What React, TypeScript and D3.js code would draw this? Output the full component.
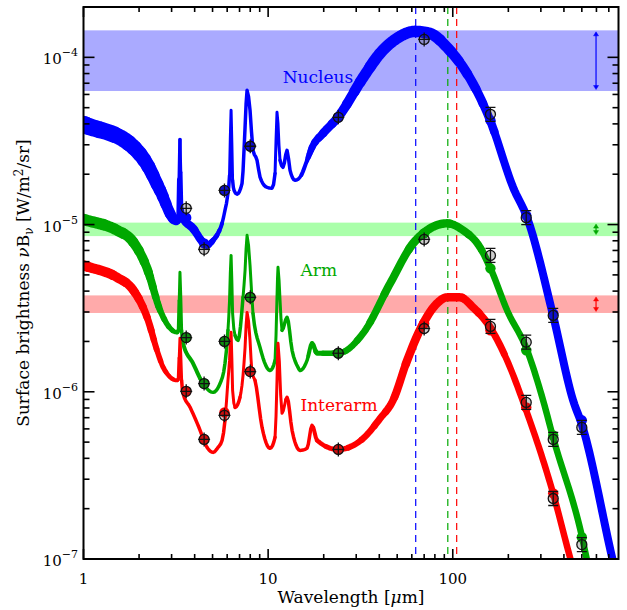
import React from 'react';
import * as d3 from 'd3';

type Pt = [number, number, number]; // wavelength (µm), νBν (W/m²/sr), model spread (dex)

const nucleusSED: Pt[] = [
  [1.0, 3.97e-5, 0.045], [1.79, 3.02e-5, 0.04], [2.21, 2.29e-5, 0.035], [2.6, 1.6e-5, 0.03],
  [3.17, 1.06e-5, 0.022], [3.27, 1.07e-5, 0.008], [3.33, 3.23e-5, 0.002], [3.4, 1.22e-5, 0.004],
  [3.46, 1.1e-5, 0.018], [3.92, 9.49e-6, 0.018], [4.44, 7.82e-6, 0.016], [4.67, 7.51e-6, 0.013],
  [5.03, 8.04e-6, 0.009], [5.35, 8.86e-6, 0.007], [5.63, 1.017e-5, 0.004], [5.84, 1.22e-5, 0.003],
  [6.06, 1.54e-5, 0.003], [6.18, 1.97e-5, 0.003], [6.3, 4.82e-5, 0.002], [6.42, 1.84e-5, 0.003],
  [6.54, 1.6e-5, 0.003], [6.78, 1.52e-5, 0.003], [7.22, 1.76e-5, 0.003], [7.5, 3.81e-5, 0.003],
  [7.69, 6.35e-5, 0.003], [7.98, 4.82e-5, 0.003], [8.28, 2.78e-5, 0.003], [8.71, 2.42e-5, 0.003],
  [9.04, 1.92e-5, 0.004], [9.86, 1.67e-5, 0.004], [10.5, 1.65e-5, 0.004], [10.9, 2.02e-5, 0.003],
  [11.17, 4.69e-5, 0.002], [11.6, 2.42e-5, 0.003], [12.04, 2.2e-5, 0.003], [12.66, 2.78e-5, 0.003],
  [13.14, 2.11e-5, 0.003], [13.99, 1.84e-5, 0.004], [14.89, 1.92e-5, 0.004], [16.25, 2.42e-5, 0.006],
  [17.29, 2.89e-5, 0.014], [19.83, 3.51e-5, 0.018], [23.9, 4.38e-5, 0.02], [32.7, 7.59e-5, 0.026],
  [40.4, 1.057e-4, 0.028], [49.9, 1.3e-4, 0.028], [62.5, 1.43e-4, 0.028], [75.3, 1.39e-4, 0.028],
  [93.1, 1.148e-4, 0.026], [113.7, 8.71e-5, 0.023], [140.6, 5.76e-5, 0.02], [159.3, 4.2e-5, 0.018],
  [212.2, 1.67e-5, 0.017], [252.7, 1.1e-5, 0.017], [349.4, 2.86e-6, 0.017], [448.4, 8.89e-7, 0.017],
  [501.7, 6.3e-7, 0.017], [729.5, 1.02e-7, 0.017], [790, 7e-8, 0.017],
];

const armSED: Pt[] = [
  [1.0, 1.074e-5, 0.028], [1.52, 9.24e-6, 0.026], [1.83, 8.04e-6, 0.024], [2.21, 5.47e-6, 0.02],
  [2.6, 3.07e-6, 0.012], [3.21, 2.27e-6, 0.006], [3.27, 2.33e-6, 0.004], [3.33, 5.18e-6, 0.002],
  [3.4, 2.33e-6, 0.003], [3.46, 1.95e-6, 0.005], [3.92, 1.48e-6, 0.005], [4.44, 1.12e-6, 0.004],
  [5.03, 9.92e-7, 0.004], [5.49, 1.12e-6, 0.003], [5.84, 1.48e-6, 0.003], [6.06, 2.33e-6, 0.003],
  [6.18, 3.52e-6, 0.002], [6.3, 6.54e-6, 0.002], [6.42, 2.94e-6, 0.002], [6.62, 2.17e-6, 0.003],
  [6.87, 2.03e-6, 0.003], [7.31, 3.67e-6, 0.003], [7.5, 5.32e-6, 0.002], [7.69, 8.62e-6, 0.002],
  [7.98, 5.7e-6, 0.002], [8.28, 2.94e-6, 0.003], [9.04, 1.84e-6, 0.003], [10.24, 1.34e-6, 0.003],
  [10.9, 1.54e-6, 0.003], [11.17, 3.67e-6, 0.002], [11.31, 5.55e-6, 0.002], [11.6, 3.52e-6, 0.002],
  [11.89, 2.33e-6, 0.003], [12.66, 2.79e-6, 0.003], [13.48, 1.77e-6, 0.003], [14.52, 1.4e-6, 0.003],
  [14.89, 1.34e-6, 0.003], [16.25, 1.54e-6, 0.004], [17.29, 1.95e-6, 0.006], [18.41, 1.7e-6, 0.008],
  [23.9, 1.7e-6, 0.011], [32.7, 2.24e-6, 0.014], [45.8, 4.45e-6, 0.017], [61.0, 7.72e-6, 0.018],
  [69.1, 8.86e-6, 0.018], [93.1, 1.017e-5, 0.018], [113.7, 9.24e-6, 0.017], [140.6, 7.3e-6, 0.015],
  [159.3, 5.55e-6, 0.013], [196.9, 3.07e-6, 0.013], [252.7, 1.77e-6, 0.013], [308.5, 8.89e-7, 0.013],
  [349.4, 5.34e-7, 0.013], [501.7, 1.35e-7, 0.013], [533.9, 9.81e-8, 0.013], [628, 5.13e-8, 0.013],
];

const interarmSED: Pt[] = [
  [1.0, 5.7e-6, 0.024], [1.52, 4.83e-6, 0.022], [1.83, 4.15e-6, 0.02], [2.21, 2.79e-6, 0.015],
  [2.53, 1.7e-6, 0.01], [2.7, 1.4e-6, 0.008], [3.21, 1.17e-6, 0.005], [3.27, 1.2e-6, 0.004],
  [3.33, 2.09e-6, 0.002], [3.4, 1.17e-6, 0.003], [3.46, 9.78e-7, 0.004], [3.78, 8.07e-7, 0.004],
  [4.28, 5.88e-7, 0.004], [4.55, 4.91e-7, 0.004], [5.03, 4.34e-7, 0.004], [5.35, 4.65e-7, 0.003],
  [5.63, 5.12e-7, 0.003], [5.84, 6.75e-7, 0.003], [6.06, 1.17e-6, 0.002], [6.18, 1.54e-6, 0.002],
  [6.3, 2.27e-6, 0.002], [6.42, 1.02e-6, 0.002], [6.62, 8.07e-7, 0.003], [7.04, 9.26e-7, 0.003],
  [7.31, 1.25e-6, 0.002], [7.5, 1.84e-6, 0.002], [7.69, 2.98e-6, 0.002], [7.98, 2.03e-6, 0.002],
  [8.18, 1.29e-6, 0.002], [8.49, 1.17e-6, 0.003], [9.27, 6.12e-7, 0.003], [10.24, 4.59e-7, 0.003],
  [10.9, 5.34e-7, 0.003], [11.17, 1.17e-6, 0.002], [11.31, 1.95e-6, 0.002], [11.89, 7.43e-7, 0.002],
  [12.66, 9.26e-7, 0.003], [13.48, 5.88e-7, 0.003], [14.89, 4.46e-7, 0.003], [16.25, 4.59e-7, 0.003],
  [17.29, 6.3e-7, 0.004], [18.41, 5.12e-7, 0.006], [23.9, 4.52e-7, 0.009], [32.7, 5.26e-7, 0.012],
  [40.4, 6.93e-7, 0.014], [47.5, 8.89e-7, 0.016], [56.6, 1.54e-6, 0.018], [69.1, 2.56e-6, 0.018],
  [82.2, 3.38e-6, 0.018], [93.1, 3.67e-6, 0.018], [109.5, 3.67e-6, 0.018], [128.8, 3.2e-6, 0.017],
  [159.3, 2.43e-6, 0.015], [196.9, 1.54e-6, 0.013], [246.4, 8.07e-7, 0.013], [349.4, 2.47e-7, 0.013],
  [431.9, 1.02e-7, 0.013], [459.7, 7.98e-8, 0.013],
];

const bandWavelengths = [3.6, 4.5, 5.8, 8.0, 24, 70, 160, 250, 350, 500];
const nucleusObs = [1.25e-5, 7.11e-6, 1.6e-5, 2.94e-5, 4.38e-5, 1.28e-4, 4.56e-5, 1.1e-5, 2.86e-6, 6.12e-7];
const nucleusSynth = [1.1e-5, 7.72e-6, 1.6e-5, 2.94e-5, 4.38e-5, 1.39e-4, 4.2e-5, 1.135e-5, 2.94e-6, 6.75e-7];
const armObs = [2.11e-6, 1.12e-6, 2.0e-6, 3.67e-6, 1.7e-6, 8.15e-6, 6.54e-6, 1.98e-6, 5.19e-7, 1.22e-7];
const armSynth = [2.11e-6, 1.12e-6, 2.0e-6, 3.67e-6, 1.7e-6, 8.86e-6, 5.47e-6, 1.77e-6, 5.48e-7, 1.35e-7];
const interarmObs = [1.006e-6, 5.19e-7, 7.23e-7, 1.32e-6, 4.52e-7, 2.39e-6, 2.46e-6, 8.64e-7, 2.3e-7, 6e-8];
const interarmSynth = [1.006e-6, 5.19e-7, 7.53e-7, 1.32e-6, 4.52e-7, 2.56e-6, 2.33e-6, 8.07e-7, 2.47e-7, 6.5e-8];

const nucleusRange = [6.29e-5, 1.45e-4];
const armRange = [8.53e-6, 1.027e-5];
const interarmRange = [2.96e-6, 3.77e-6];
const peakWavelengths = [63, 94, 105]; // nucleus, arm, interarm
const rangeArrowWl = 597;

const seriesNames = ['Nucleus', 'Arm', 'Interarm'];
const labelPos = [[18.6, 6.99e-5], [18.8, 4.9e-6], [24.2, 7.63e-7]];

const colors = ['#0000ff', '#00a800', '#ff0000'];
const bandColors = ['#aaaaff', '#aaffaa', '#ffaaaa'];

const W = 627, H = 610;
const L = 83.5, R = 618.5, T = 7, B = 559;
const FONT = "'DejaVu Serif'";

// Monotone cubic (Fritsch–Carlson) sampling in pixel space, with interpolated widths
function densify(p: { x: number; y: number; w: number }[]) {
  const n = p.length;
  const s: number[] = [];
  for (let i = 0; i < n - 1; i++) s.push((p[i + 1].y - p[i].y) / (p[i + 1].x - p[i].x));
  const t: number[] = new Array(n).fill(0);
  t[0] = s[0]; t[n - 1] = s[n - 2];
  for (let i = 1; i < n - 1; i++) {
    const h0 = p[i].x - p[i - 1].x, h1 = p[i + 1].x - p[i].x;
    const s0 = s[i - 1], s1 = s[i];
    const pp = (s0 * h1 + s1 * h0) / (h0 + h1);
    t[i] = (Math.sign(s0) + Math.sign(s1)) * Math.min(Math.abs(s0), Math.abs(s1), 0.5 * Math.abs(pp)) || 0;
  }
  const out: { x: number; y: number; w: number }[] = [];
  for (let i = 0; i < n - 1; i++) {
    const h = p[i + 1].x - p[i].x;
    const steps = Math.max(2, Math.ceil(h / 1.5));
    for (let k = 0; k < steps; k++) {
      const u = k / steps;
      const h00 = 2 * u * u * u - 3 * u * u + 1, h10 = u * u * u - 2 * u * u + u;
      const h01 = -2 * u * u * u + 3 * u * u, h11 = u * u * u - u * u;
      out.push({
        x: p[i].x + u * h,
        y: h00 * p[i].y + h10 * h * t[i] + h01 * p[i + 1].y + h11 * h * t[i + 1],
        w: p[i].w + u * (p[i + 1].w - p[i].w),
      });
    }
  }
  out.push(p[n - 1]);
  return out;
}

export default function App() {
  const x = d3.scaleLog().domain([1, 790]).range([L, R]);
  const y = d3.scaleLog().domain([1e-7, 2e-4]).range([B, T]);

  const seds = [nucleusSED, armSED, interarmSED];
  const obs = [nucleusObs, armObs, interarmObs];
  const synth = [nucleusSynth, armSynth, interarmSynth];
  const ranges = [nucleusRange, armRange, interarmRange];

  const xTicks = x.ticks();
  const yTicks = y.ticks();
  const isMajor = (v: number) => Math.abs(Math.log10(v) - Math.round(Math.log10(v))) < 1e-6;
  const pxPerDex = (B - T) / Math.log10(2e-4 / 1e-7);

  const curveRuns = (s: Pt[]) => {
    const pts = densify(s.map(d => ({ x: x(d[0]), y: y(d[1]), w: 2.3 + d[2] * 2 * pxPerDex })));
    const runs: { d: string; w: number }[] = [];
    let cur: { pts: { x: number; y: number }[]; w: number } | null = null;
    for (let i = 0; i < pts.length - 1; i++) {
      const w = Math.round(((pts[i].w + pts[i + 1].w) / 2) * 2) / 2;
      if (!cur || cur.w !== w) {
        if (cur) runs.push({ d: d3.line()(cur.pts.map(q => [q.x, q.y])) || '', w: cur.w });
        cur = { pts: [pts[i]], w };
      }
      cur.pts.push(pts[i + 1]);
    }
    if (cur) runs.push({ d: d3.line()(cur.pts.map(q => [q.x, q.y])) || '', w: cur.w });
    return runs;
  };

  const txt = { fontFamily: FONT };

  return (
    <svg width={W} height={H} style={{ position: 'absolute', left: 0, top: 0, background: '#fff' }}>
      <defs>
        <clipPath id="plot"><rect x={L} y={T} width={R - L} height={B - T} /></clipPath>
      </defs>
      <g clipPath="url(#plot)">
        {ranges.map((r, i) => (
          <rect key={'band' + i} x={L} width={R - L} y={y(r[1])} height={y(r[0]) - y(r[1])} fill={bandColors[i]} />
        ))}
        {ranges.map((r, i) => {
          const ax = x(rangeArrowWl), y1 = y(r[1]) + 1.5, y2 = y(r[0]) - 1.5;
          return (
            <g key={'arr' + i} stroke={colors[i]} fill={colors[i]} strokeWidth={1.2}>
              <line x1={ax} x2={ax} y1={y1 + 3} y2={y2 - 3} />
              <path d={`M${ax},${y1} L${ax - 2.5},${y1 + 4} L${ax + 2.5},${y1 + 4} Z`} strokeWidth={0.5} />
              <path d={`M${ax},${y2} L${ax - 2.5},${y2 - 4} L${ax + 2.5},${y2 - 4} Z`} strokeWidth={0.5} />
            </g>
          );
        })}
        {peakWavelengths.map((p, i) => (
          <line key={'pk' + i} x1={x(p)} x2={x(p)} y1={T} y2={B} stroke={colors[i]} strokeWidth={1.2} strokeDasharray="7,5" />
        ))}
        {seds.map((s, i) => (
          <g key={'sed' + i} fill="none" stroke={colors[i]} strokeLinecap="round" strokeLinejoin="round">
            {curveRuns(s).map((r, k) => <path key={k} d={r.d} strokeWidth={r.w} />)}
          </g>
        ))}
        {synth.map((vals, i) => vals.map((v, j) => v == null ? null : (
          <circle key={`syn${i}-${j}`} cx={x(bandWavelengths[j])} cy={y(v)} r={5.2} fill={colors[i]} />
        )))}
        {obs.map((vals, i) => vals.map((v, j) => {
          if (v == null) return null;
          const cx = x(bandWavelengths[j]), cy = y(v);
          const far = bandWavelengths[j] >= 160;
          return (
            <g key={`obs${i}-${j}`} stroke="#111" strokeWidth={1.3} fill="none">
              <circle cx={cx} cy={cy} r={5} fill="rgba(60,60,60,0.25)" />
              <line x1={cx} x2={cx} y1={cy - 7} y2={cy + 7} />
              {far ? (
                <>
                  <line x1={cx - 5} x2={cx + 5} y1={cy - 7} y2={cy - 7} />
                  <line x1={cx - 5} x2={cx + 5} y1={cy + 7} y2={cy + 7} />
                </>
              ) : (
                <line x1={cx - 6} x2={cx + 6} y1={cy} y2={cy} />
              )}
            </g>
          );
        }))}
        {seriesNames.map((n, i) => (
          <text key={'lab' + i} x={x(labelPos[i][0])} y={y(labelPos[i][1])} fill={colors[i]}
            fontSize={17} textAnchor="middle" style={txt}>{n}</text>
        ))}
      </g>

      <rect x={L} y={T} width={R - L} height={B - T} fill="none" stroke="#000" strokeWidth={2} />
      {xTicks.map((t, i) => {
        const len = isMajor(t) ? 10 : 5;
        const px = x(t);
        return (
          <g key={'xt' + i} stroke="#000" strokeWidth={1.6}>
            <line x1={px} x2={px} y1={B} y2={B - len} />
            <line x1={px} x2={px} y1={T} y2={T + len} />
          </g>
        );
      })}
      {yTicks.map((t, i) => {
        const len = isMajor(t) ? 11 : 6;
        const py = y(t);
        return (
          <g key={'yt' + i} stroke="#000" strokeWidth={1.6}>
            <line x1={L} x2={L + len} y1={py} y2={py} />
            <line x1={R} x2={R - len} y1={py} y2={py} />
          </g>
        );
      })}
      {xTicks.filter(isMajor).map((t, i) => (
        <text key={'xl' + i} x={x(t)} y={584} textAnchor="middle" fontSize={15} style={txt}>{String(t)}</text>
      ))}
      {yTicks.filter(isMajor).map((t, i) => (
        <text key={'yl' + i} x={78} y={y(t) + 7} textAnchor="end" fontSize={15} style={txt}>
          <tspan>10</tspan>
          <tspan dy={-8} fontSize={11}>{'\u2212' + String(Math.round(-Math.log10(t)))}</tspan>
        </text>
      ))}
      <text x={(L + R) / 2} y={603} textAnchor="middle" fontSize={17} style={txt}>
        Wavelength [<tspan fontStyle="italic">μ</tspan>m]
      </text>
      <text transform={`translate(29,${(T + B) / 2}) rotate(-90)`} textAnchor="middle" fontSize={17} style={txt}>
        Surface brightness <tspan fontStyle="italic">ν</tspan>B<tspan fontSize={12} dy={4}>ν</tspan>
        <tspan dy={-4}> [W/m</tspan><tspan fontSize={12} dy={-6}>2</tspan><tspan dy={6}>/sr]</tspan>
      </text>
    </svg>
  );
}
